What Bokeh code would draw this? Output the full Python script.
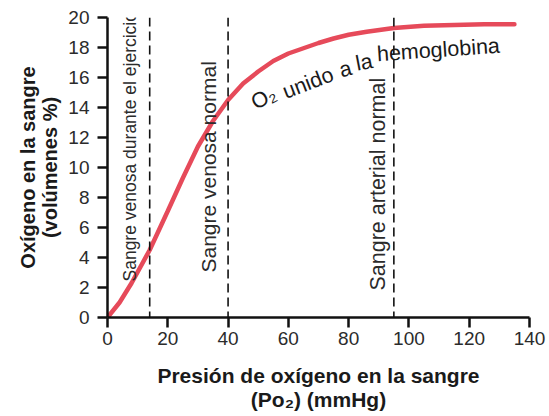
import math
from bokeh.plotting import figure
from bokeh.models import Span, Label, FixedTicker, Range1d
from bokeh.embed import file_html
from bokeh.resources import INLINE

# Oxygen-hemoglobin dissociation curve
po2 = [0, 4, 8, 14, 20, 25, 30, 35, 40, 45, 50, 55, 60, 65, 70, 75, 80, 86, 95, 105, 115, 125, 135]
o2 = [0, 1.0, 2.3, 4.5, 7.1, 9.3, 11.4, 13.1, 14.5, 15.6, 16.4, 17.1, 17.6, 17.95, 18.3, 18.6, 18.85, 19.05, 19.3, 19.45, 19.5, 19.55, 19.55]

x_ticks = [0, 20, 40, 60, 80, 100, 120, 140]
y_ticks = [0, 2, 4, 6, 8, 10, 12, 14, 16, 18, 20]

ref_po2 = [14, 40, 95]
ref_names = ["Sangre venosa durante el ejercicio", "Sangre venosa normal", "Sangre arterial normal"]

# curved label "O2 unido a la hemoglobina", one piece per word, following the curve
curve_words = ["O\u2082", "unido", "a", "la", "hemoglobina"]

x_title = "Presión de oxígeno en la sangre\n(Po\u2082) (mmHg)"
y_title = "Oxígeno en la sangre\n(volúmenes %)"

FONT = "Liberation Sans"

p = figure(width=549, height=416, x_range=Range1d(0, 140), y_range=Range1d(0, 20),
           output_backend="svg", toolbar_location=None,
           min_border_left=107, min_border_right=20, min_border_top=17, min_border_bottom=99)
p.outline_line_color = None
p.grid.visible = False
p.background_fill_color = "white"

for ax in (p.xaxis[0], p.yaxis[0]):
    ax.axis_line_width = 2.5
    ax.axis_line_color = "#111111"
    ax.major_tick_line_width = 2.5
    ax.major_tick_line_color = "#111111"
    ax.major_tick_out = 10
    ax.major_tick_in = 0
    ax.minor_tick_line_color = None
    ax.major_label_text_font = FONT
    ax.major_label_text_font_size = "19px"
    ax.major_label_text_color = "#2b2b2b"
    ax.axis_label_text_font = FONT
    ax.axis_label_text_font_style = "bold"
    ax.axis_label_text_color = "#1a1a1a"

p.xaxis[0].ticker = FixedTicker(ticks=x_ticks)
p.yaxis[0].ticker = FixedTicker(ticks=y_ticks)
p.xaxis[0].major_label_standoff = 4
p.yaxis[0].major_label_standoff = 8
p.xaxis[0].axis_label = x_title
p.yaxis[0].axis_label = y_title
p.xaxis[0].axis_label_text_font_size = "21px"
p.yaxis[0].axis_label_text_font_size = "20px"
p.xaxis[0].axis_label_text_line_height = 1.05
p.yaxis[0].axis_label_text_line_height = 1.0
p.xaxis[0].axis_label_standoff = 16
p.yaxis[0].axis_label_standoff = 4

for xv in ref_po2:
    p.add_layout(Span(location=xv, dimension="height", line_color="#111111",
                      line_width=1.6, line_dash="9 5"))

p.line(po2, o2, line_color="#e64a5a", line_width=4.5, line_cap="round")

label_pos = [(7.3, 2.4, "17.5px"), (33.6, 3.0, "21px"), (89.8, 1.8, "21.5px")]
for name, (lx, ly, fs) in zip(ref_names, label_pos):
    p.add_layout(Label(x=lx, y=ly, text=name, angle=math.pi / 2, text_align="left",
                       text_baseline="middle", text_font=FONT, text_font_size=fs,
                       text_color="#2b2b2b"))

word_pos = [(48.1, 14.25, 27), (58.4, 15.0, 21), (77.0, 16.45, 15), (82.4, 16.9, 11), (89.4, 17.55, 4)]
for w, (wx, wy, wa) in zip(curve_words, word_pos):
    p.add_layout(Label(x=wx, y=wy, text=w, angle=math.radians(wa),
                       text_align="left", text_baseline="alphabetic", text_font=FONT,
                       text_font_size="21.5px", text_color="#1a1a1a"))

open("out.html", "w").write(file_html(p, INLINE))
